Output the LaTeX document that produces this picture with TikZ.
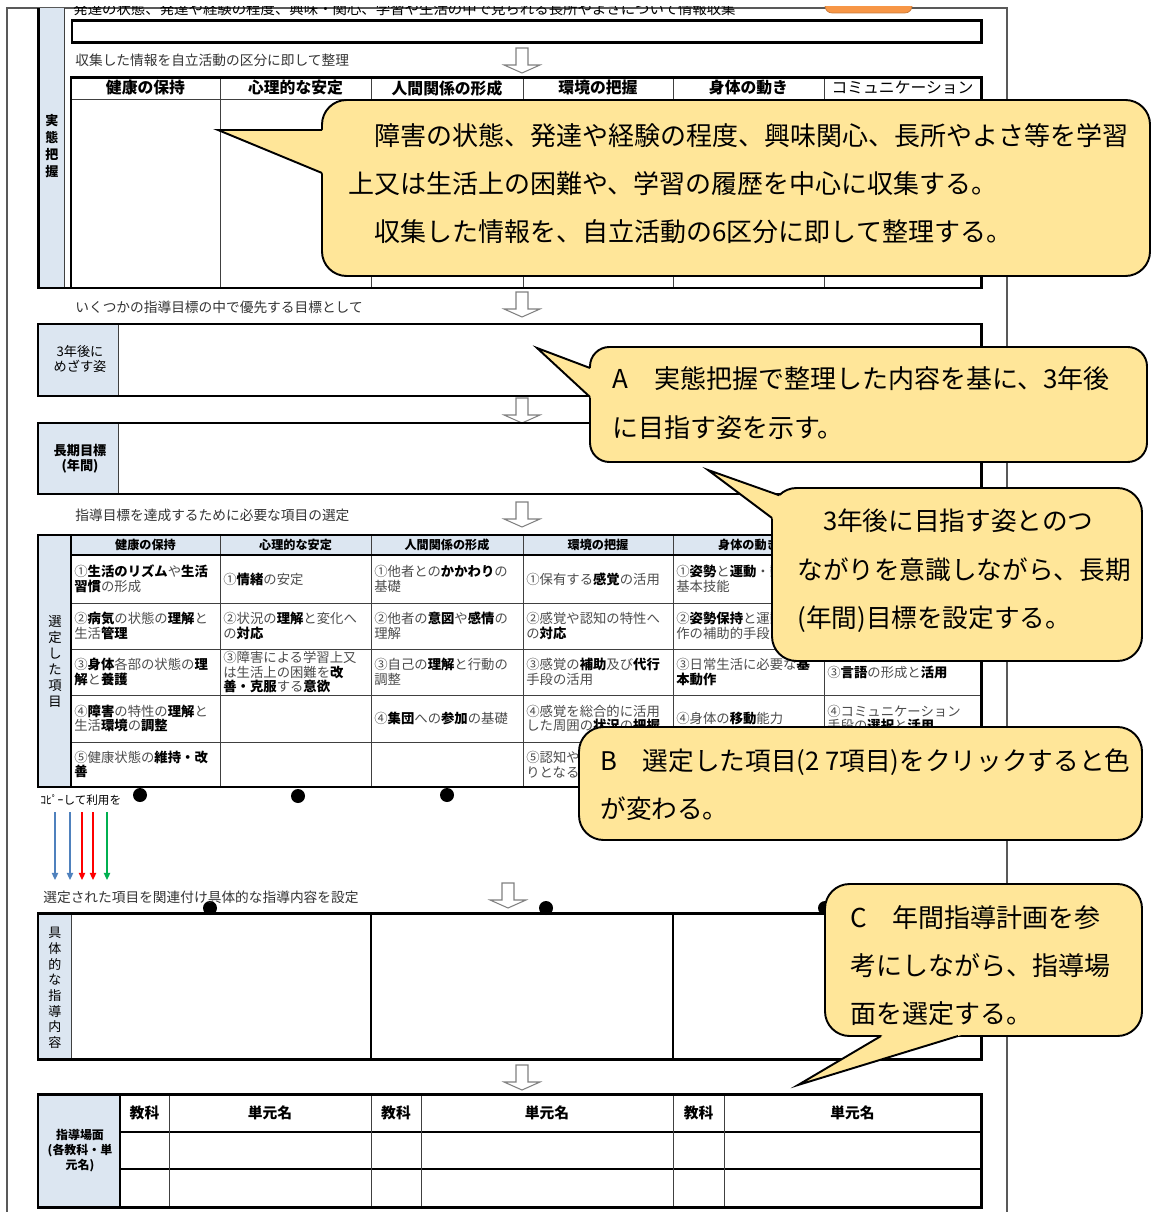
\documentclass[tikz,border=0pt]{standalone}
\usepackage{fontspec}
\setmainfont{Noto Sans CJK JP}
\usetikzlibrary{arrows.meta}
\definecolor{lblue}{RGB}{220,230,241}
\definecolor{cyellow}{RGB}{255,230,153}
\definecolor{cporange}{RGB}{247,150,70}
\definecolor{cpblue}{RGB}{79,129,189}
\definecolor{cpred}{RGB}{255,0,0}
\definecolor{cpgreen}{RGB}{0,176,80}
\newcommand\callfont{\fontsize{14.8pt}{27.5pt}\selectfont}
\newcommand\notefont{\fontsize{7.8pt}{9pt}\selectfont}
\newcommand\cellfont{\fontsize{7.6pt}{8.3pt}\selectfont}
\newcommand\kw[1]{{\bfseries\color{black}#1}}
\begin{document}
\begin{tikzpicture}[x=0.02cm, y=-0.02cm,
	frame/.style={line width=1.7pt},
	grid/.style={line width=0.5pt, black!75},
	pageline/.style={line width=0.8pt, black!65},
	bubble/.style={draw, line width=1.1pt, fill=cyellow, rounded corners=14pt},
	bubbleline/.style={line width=1.1pt},
	calltext/.style={font=\callfont, align=left, anchor=west, inner sep=0pt},
	note/.style={font=\notefont, text=black!80, anchor=west, inner sep=0pt},
	headA/.style={font=\fontsize{9pt}{10pt}\selectfont\bfseries},
	headB/.style={font=\fontsize{6.9pt}{8pt}\selectfont\bfseries},
	cell/.style={font=\cellfont, text=black!70, align=left, anchor=west, inner sep=0pt},
	vlabel/.style={align=center, inner sep=0pt},
	dot/.style={circle, fill, inner sep=0pt, minimum size=0.28cm},
	copyarrow/.style={line width=0.7pt, -{Triangle[width=3.6pt,length=4pt]}},
	blockdown/.pic={\draw[black!50, fill=white, line width=0.6pt] (-6,0) -- (6,0) -- (6,17) -- (18,17) -- (0,25) -- (-18,17) -- (-6,17) -- cycle;}]
	\useasboundingbox (0,0) rectangle (1152,1212);
	% page
	\draw[pageline] (7,1212) -- (7,8) -- (1007,8) -- (1007,1212);
	\begin{scope}
		\clip (0,7) rectangle (1152,40);
		\node[note, text=black, font=\fontsize{8.2pt}{9pt}\selectfont] (topnote) at (73,9) {発達の状態、発達や経験の程度、興味・関心、学習や生活の中で見られる長所やよさについて情報収集};
		\draw[draw=cporange!80!black, fill=cporange, rounded corners=4pt] (825,-10) rectangle (912,13);
	\end{scope}
	% 実態把握
	\fill[lblue] (38,8) rectangle (64,288);
	\draw[grid] (64,8) -- (64,288);
	\draw[frame] (38.8,8) -- (38.8,288) -- (982,288);
	\node[vlabel, font=\fontsize{7.4pt}{9.6pt}\selectfont\bfseries] (jittai) at (52,146) {実\\態\\把\\握};
	\draw[frame] (72,21) rectangle (981,43);
	\node[note] (sumA) at (75,60) {収集した情報を自立活動の区分に即して整理};
	\pic at (522,48) {blockdown};
	\draw[grid] (71,99) -- (981,99);
	\foreach \x in {220,371,523,673,824} \draw[grid] (\x,78) -- (\x,288);
	\draw[frame] (71,78) rectangle (981,288);
	\node[headA] (hA1) at (145.5,88) {健康の保持};
	\node[headA] (hA2) at (295.5,88) {心理的な安定};
	\node[headA] (hA3) at (447,88) {人間関係の形成};
	\node[headA] (hA4) at (598,88) {環境の把握};
	\node[headA] (hA5) at (748.5,88) {身体の動き};
	\node[headA, font=\fontsize{9pt}{10pt}\selectfont] (hA6) at (902.5,88) {コミュニケーション};
	% 目標
	\node[note] (sumB) at (75,307) {いくつかの指導目標の中で優先する目標として};
	\pic at (522,292) {blockdown};
	\fill[lblue] (38,324) rectangle (118,396);
	\draw[grid] (118,324) -- (118,396);
	\draw[frame] (38,324) rectangle (981,396);
	\node[vlabel, font=\fontsize{7.5pt}{8.5pt}\selectfont] (mezasu) at (80,359) {3年後に\\めざす姿};
	\pic at (522,398) {blockdown};
	\fill[lblue] (38,423) rectangle (118,494);
	\draw[grid] (118,423) -- (118,494);
	\draw[frame] (38,423) rectangle (981,494);
	\node[vlabel, font=\fontsize{7.5pt}{8.5pt}\selectfont\bfseries] (choki) at (80,459) {長期目標\\(年間)};
	\node[note] (sumC) at (75,515) {指導目標を達成するために必要な項目の選定};
	\pic at (522,502) {blockdown};
	% 選定した項目
	\fill[lblue] (38,535) rectangle (71,787);
	\fill[lblue] (71,535) rectangle (981,555);
	\foreach \y in {603,649,695,742} \draw[grid] (71,\y) -- (981,\y);
	\foreach \x in {220,371,523,673,824} \draw[grid] (\x,535) -- (\x,787);
	\draw[line width=1pt] (71,555) -- (981,555);
	\draw[line width=1.2pt] (71,535) -- (71,787);
	\draw[frame] (38,535) rectangle (981,787);
	\node[vlabel, font=\fontsize{7.6pt}{9.1pt}\selectfont] (sentei) at (55,662) {選\\定\\し\\た\\項\\目};
	\node[headB] (hB1) at (145.5,545) {健康の保持};
	\node[headB] (hB2) at (295.5,545) {心理的な安定};
	\node[headB] (hB3) at (447,545) {人間関係の形成};
	\node[headB] (hB4) at (598,545) {環境の把握};
	\node[headB] (hB5) at (748.5,545) {身体の動き};
	\node[cell] (c11) at (74,579) {①\kw{生活のリズム}や\kw{生活}\\\kw{習慣}の形成};
	\node[cell] (c12) at (74,626) {②\kw{病気}の状態の\kw{理解}と\\生活\kw{管理}};
	\node[cell] (c13) at (74,672) {③\kw{身体}各部の状態の\kw{理}\\\kw{解}と\kw{養護}};
	\node[cell] (c14) at (74,718.5) {④\kw{障害}の特性の\kw{理解}と\\生活\kw{環境}の\kw{調整}};
	\node[cell] (c15) at (74,764.5) {⑤健康状態の\kw{維持・改}\\\kw{善}};
	\node[cell] (c21) at (223,579) {①\kw{情緒}の安定};
	\node[cell] (c22) at (223,626) {②状況の\kw{理解}と変化へ\\の\kw{対応}};
	\node[cell] (c23) at (223,672) {③障害による学習上又\\は生活上の困難を\kw{改}\\\kw{善・克服}する\kw{意欲}};
	\node[cell] (c31) at (374,579) {①他者との\kw{かかわり}の\\基礎};
	\node[cell] (c32) at (374,626) {②他者の\kw{意図}や\kw{感情}の\\理解};
	\node[cell] (c33) at (374,672) {③自己の\kw{理解}と行動の\\調整};
	\node[cell] (c34) at (374,718.5) {④\kw{集団}への\kw{参加}の基礎};
	\node[cell] (c41) at (526,579) {①保有する\kw{感覚}の活用};
	\node[cell] (c42) at (526,626) {②感覚や認知の特性へ\\の\kw{対応}};
	\node[cell] (c43) at (526,672) {③感覚の\kw{補助}及び\kw{代行}\\手段の活用};
	\node[cell] (c44) at (526,718.5) {④感覚を総合的に活用\\した周囲の\kw{状況}の\kw{把握}};
	\node[cell] (c45) at (526,764.5) {⑤認知や\\りとなる};
	\node[cell] (c51) at (676,579) {①\kw{姿勢}と\kw{運動}・動作の\\基本技能};
	\node[cell] (c52) at (676,626) {②\kw{姿勢保持}と運動・動\\作の補助的手段の活用};
	\node[cell] (c53) at (676,672) {③日常生活に必要な\kw{基}\\\kw{本動作}};
	\node[cell] (c54) at (676,718.5) {④身体の\kw{移動}能力};
	\node[cell] (c63) at (827,672) {③\kw{言語}の形成と\kw{活用}};
	\node[cell] (c64) at (827,718.5) {④コミュニケーション\\手段の\kw{選択}と\kw{活用}};
	% コピー
	\node[note, text=black, font=\fontsize{6.6pt}{8pt}\selectfont] (copynote) at (40,800) {ｺﾋﾟｰして利用を};
	\foreach \i/\x/\c in {1/55/cpblue,2/70/cpblue,3/82/cpred,4/93/cpred,5/107/cpgreen} {
		\coordinate (cp\i s) at (\x,812);
		\coordinate (cp\i e) at (\x,880);
		\draw[copyarrow, \c] (cp\i s) -- (cp\i e);
	}
	\foreach \n/\x/\y in {1/140/795,2/298/796,3/447/795,4/210/908,5/546/908,6/825/908}
		\node[dot] (dot\n) at (\x,\y) {};
	% 具体的な指導内容
	\node[note] (sumD) at (43,897) {選定された項目を関連付け具体的な指導内容を設定};
	\pic at (508,883) {blockdown};
	\fill[lblue] (38,913) rectangle (71,1059);
	\draw[grid] (71,913) -- (71,1059);
	\draw[line width=0.6pt] (371,913) -- (371,1059) (673,913) -- (673,1059);
	\draw[frame] (38,913) rectangle (981,1059);
	\node[vlabel, font=\fontsize{7.4pt}{8.9pt}\selectfont] (naiyo) at (55,988) {具\\体\\的\\な\\指\\導\\内\\容};
	% 指導場面
	\pic at (522,1065) {blockdown};
	\fill[lblue] (38,1094) rectangle (120,1207);
	\draw[line width=0.6pt] (120,1132) -- (981,1132) (120,1169) -- (981,1169);
	\foreach \x in {169,371,421,673,724} \draw[grid] (\x,1094) -- (\x,1207);
	\draw[line width=1.2pt] (120,1094) -- (120,1207);
	\draw[frame] (38,1094) rectangle (981,1207);
	\node[vlabel, font=\fontsize{6.8pt}{8.5pt}\selectfont\bfseries] (bamen) at (80,1151) {指導場面\\(各教科・単\\元名)};
	\foreach \n/\x/\t in {1/144.5/教科,2/270/単元名,3/396/教科,4/547/単元名,5/698.5/教科,6/852.5/単元名}
		\node[font=\fontsize{8.4pt}{9pt}\selectfont\bfseries] (kamoku\n) at (\x,1113) {\t};
	% callouts
	\draw[bubble] (322,100) rectangle (1150,276);
	\fill[cyellow] (218,130) -- (325,130) -- (325,174.2) -- cycle;
	\draw[bubbleline] (322,130) -- (218,130) -- (322,173);
	\node[calltext] (calInfo) at (348,183.5) {　障害の状態、発達や経験の程度、興味関心、長所やよさ等を学習\\上又は生活上の困難や、学習の履歴を中心に収集する。\\　収集した情報を、自立活動の6区分に即して整理する。};
	\draw[bubble, rounded corners=11pt] (590,347) rectangle (1147,462);
	\fill[cyellow] (537,348) -- (594,369.5) -- (594,400.7) -- cycle;
	\draw[bubbleline] (590,368) -- (537,348) -- (590,397);
	\node[calltext] (calGoal) at (612,403) {A　実態把握で整理した内容を基に、3年後\\に目指す姿を示す。};
	\draw[bubble] (772,488) rectangle (1142,661);
	\fill[cyellow] (708,470) -- (781.4,496.1) -- (787,508) -- (775.2,520.4) -- cycle;
	\draw[bubbleline] (779.3,495.3) -- (708,470) -- (772,518);
	\node[calltext, font=\fontsize{14.6pt}{27.5pt}\selectfont] (calLink) at (797,571) {　3年後に目指す姿とのつ\\ながりを意識しながら、長期\\(年間)目標を設定する。};
	\draw[bubble] (579,727) rectangle (1142,840);
	\node[calltext, font=\fontsize{14.6pt}{27.5pt}\selectfont] (calClick) at (600,785) {B　選定した項目(2 7項目)をクリックすると色\\が変わる。};
	\draw[bubble] (825,884) rectangle (1142,1036);
	\fill[cyellow] (798,1085) -- (886.1,1033) -- (967.8,1033) -- cycle;
	\draw[bubbleline] (881,1036) -- (798,1085) -- (958,1036);
	\node[calltext] (calScene) at (850,965.5) {C　年間指導計画を参\\考にしながら、指導場\\面を選定する。};
\end{tikzpicture}
\end{document}
